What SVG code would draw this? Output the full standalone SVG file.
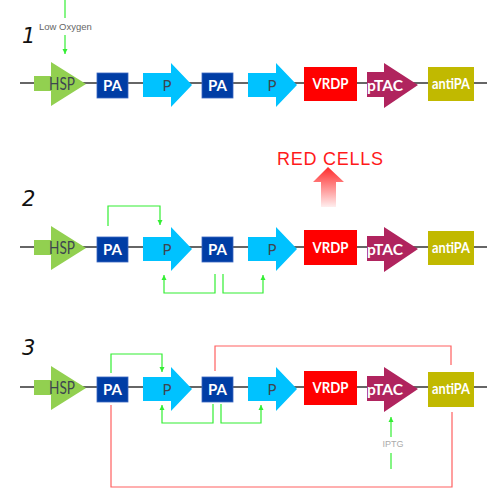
<svg xmlns="http://www.w3.org/2000/svg" width="500" height="500" viewBox="0 0 500 500">
<defs>
<marker id="ga" markerUnits="userSpaceOnUse" markerWidth="6" markerHeight="6" refX="5" refY="3" orient="auto">
<path d="M0,0.5 L5,3 L0,5.5 z" fill="#33ee33"/>
</marker>
<linearGradient id="rg" x1="0" y1="0" x2="0" y2="1">
<stop offset="0" stop-color="#ff2a2a"/>
<stop offset="1" stop-color="#ff2a2a" stop-opacity="0.08"/>
</linearGradient>
</defs>
<style>
.bb{stroke:#333;stroke-width:1.5}
.hsp{fill:#92d050}
.pa{fill:#003da5;stroke:#3a66c0;stroke-width:0.8}
.p{fill:#00c2ff}
.vrdp{fill:#ff0000}
.ptac{fill:#b0245e}
.anti{fill:#c1b900}
.t{font-family:Lato,"Liberation Sans",sans-serif;text-anchor:middle}
.w{fill:#fff;font-weight:bold}
.d{fill:#3d4650}
.num{font-family:"DejaVu Sans","Liberation Sans",sans-serif;font-style:italic;font-size:21px;fill:#111}
.gc{fill:none;stroke:#33ee33;stroke-width:1.2}
.rc{fill:none;stroke:#ff6060;stroke-width:1.2}
.lbl{font-family:"Liberation Sans",Arial,sans-serif;fill:#666}
</style>

<text class="num" x="22" y="43">1</text>
<text class="num" x="22" y="206">2</text>
<text class="num" x="22" y="355">3</text>

<g id="row1" transform="translate(0,83)">
<line class="bb" x1="20" y1="0" x2="487" y2="0"/>
<g id="hsp1"><polygon class="hsp" points="34,-7 51,-7 51,-21 86,1 51,23 51,8 34,8"/><text class="t d" x="62" y="7" font-size="17" textLength="26" lengthAdjust="spacingAndGlyphs">HSP</text></g>
<g id="pa1a"><rect class="pa" x="97" y="-10" width="31" height="25"/><text class="t w" x="112.5" y="8" font-size="15">PA</text></g>
<g id="p1a"><polygon class="p" points="143,-10 171,-10 171,-20 192,2 171,24 171,14 143,14"/><text class="t d" x="167" y="8" font-size="15">P</text></g>
<g id="pa2a"><rect class="pa" x="202" y="-10" width="31" height="25"/><text class="t w" x="217.5" y="8" font-size="15">PA</text></g>
<g id="p2a"><polygon class="p" points="248,-10 276,-10 276,-20 297,2 276,24 276,14 248,14"/><text class="t d" x="272" y="8" font-size="15">P</text></g>
<g id="vrdp1"><rect class="vrdp" x="304" y="-16" width="53" height="34"/><text class="t w" x="330.5" y="6" font-size="16" textLength="36" lengthAdjust="spacingAndGlyphs">VRDP</text></g>
<g id="ptac1"><polygon class="ptac" points="367,-11 384,-11 384,-20 418,2 384,25 384,14 367,14"/><text class="t w" x="385" y="8" font-size="16" font-weight="normal" textLength="36" lengthAdjust="spacingAndGlyphs">pTAC</text></g>
<g id="anti1"><rect class="anti" x="428" y="-16" width="46" height="34"/><text class="t w" x="451" y="6" font-size="16" textLength="38" lengthAdjust="spacingAndGlyphs">antiPA</text></g>
</g>

<g id="row2" transform="translate(0,247)">
<line class="bb" x1="20" y1="0" x2="487" y2="0"/>
<g id="hsp2"><polygon class="hsp" points="34,-7 51,-7 51,-21 86,1 51,23 51,8 34,8"/><text class="t d" x="62" y="7" font-size="17" textLength="26" lengthAdjust="spacingAndGlyphs">HSP</text></g>
<g id="pa1b"><rect class="pa" x="97" y="-10" width="31" height="25"/><text class="t w" x="112.5" y="8" font-size="15">PA</text></g>
<g id="p1b"><polygon class="p" points="143,-10 171,-10 171,-20 192,2 171,24 171,14 143,14"/><text class="t d" x="167" y="8" font-size="15">P</text></g>
<g id="pa2b"><rect class="pa" x="202" y="-10" width="31" height="25"/><text class="t w" x="217.5" y="8" font-size="15">PA</text></g>
<g id="p2b"><polygon class="p" points="248,-10 276,-10 276,-20 297,2 276,24 276,14 248,14"/><text class="t d" x="272" y="8" font-size="15">P</text></g>
<g id="vrdp2"><rect class="vrdp" x="304" y="-17" width="53" height="35"/><text class="t w" x="330.5" y="6" font-size="16" textLength="36" lengthAdjust="spacingAndGlyphs">VRDP</text></g>
<g id="ptac2"><polygon class="ptac" points="367,-11 384,-11 384,-20 418,2 384,25 384,14 367,14"/><text class="t w" x="385" y="8" font-size="16" font-weight="normal" textLength="36" lengthAdjust="spacingAndGlyphs">pTAC</text></g>
<g id="anti2"><rect class="anti" x="428" y="-16" width="46" height="34"/><text class="t w" x="451" y="6" font-size="16" textLength="38" lengthAdjust="spacingAndGlyphs">antiPA</text></g>
</g>

<g id="row3" transform="translate(0,387)">
<line class="bb" x1="20" y1="0" x2="487" y2="0"/>
<g id="hsp3"><polygon class="hsp" points="34,-7 51,-7 51,-21 86,1 51,23 51,8 34,8"/><text class="t d" x="62" y="7" font-size="17" textLength="26" lengthAdjust="spacingAndGlyphs">HSP</text></g>
<g id="pa1c"><rect class="pa" x="97" y="-10" width="31" height="25"/><text class="t w" x="112.5" y="8" font-size="15">PA</text></g>
<g id="p1c"><polygon class="p" points="143,-10 171,-10 171,-20 192,2 171,24 171,14 143,14"/><text class="t d" x="167" y="8" font-size="15">P</text></g>
<g id="pa2c"><rect class="pa" x="202" y="-10" width="31" height="25"/><text class="t w" x="217.5" y="8" font-size="15">PA</text></g>
<g id="p2c"><polygon class="p" points="248,-10 276,-10 276,-20 297,2 276,24 276,14 248,14"/><text class="t d" x="272" y="8" font-size="15">P</text></g>
<g id="vrdp3"><rect class="vrdp" x="304" y="-16" width="53" height="34"/><text class="t w" x="330.5" y="6" font-size="16" textLength="36" lengthAdjust="spacingAndGlyphs">VRDP</text></g>
<g id="ptac3"><polygon class="ptac" points="367,-11 384,-11 384,-20 418,2 384,25 384,14 367,14"/><text class="t w" x="385" y="8" font-size="16" font-weight="normal" textLength="36" lengthAdjust="spacingAndGlyphs">pTAC</text></g>
<g id="anti3"><rect class="anti" x="428" y="-15" width="46" height="35"/><text class="t w" x="451" y="7" font-size="16" textLength="38" lengthAdjust="spacingAndGlyphs">antiPA</text></g>
</g>

<g id="redcells">
<text x="277" y="165" font-family="'Liberation Sans',Arial,sans-serif" font-size="18" fill="#ff1a1a" textLength="106" lengthAdjust="spacing">RED CELLS</text>
<polygon points="328,167 344,182 336,182 336,207 321,207 321,182 313,182" fill="url(#rg)"/>
</g>

<g id="connectors">
<path class="gc" d="M65,0 V18"/>
<path class="gc" d="M65,35 V54" marker-end="url(#ga)"/>
<text class="lbl" x="39" y="30" font-size="9.5">Low Oxygen</text>

<path class="gc" d="M108,226 V206 H160 V225" marker-end="url(#ga)"/>
<path class="gc" d="M215,274 V293 H164 V275" marker-end="url(#ga)"/>
<path class="gc" d="M223,274 V293 H263 V275" marker-end="url(#ga)"/>

<path class="gc" d="M111,373 V354 H162 V372" marker-end="url(#ga)"/>
<path class="gc" d="M213,404 V423 H162 V405" marker-end="url(#ga)"/>
<path class="gc" d="M221,404 V423 H261 V405" marker-end="url(#ga)"/>
<path class="rc" d="M215,371 V346 H451 V365"/>
<path class="rc" d="M111,405 V487 H452 V412"/>
<path class="gc" d="M391,469 V453"/>
<path class="gc" d="M391,437 V417" marker-end="url(#ga)"/>
<text class="lbl" x="393" y="447" font-size="9" style="fill:#aaa" text-anchor="middle">IPTG</text>
</g>
</svg>
